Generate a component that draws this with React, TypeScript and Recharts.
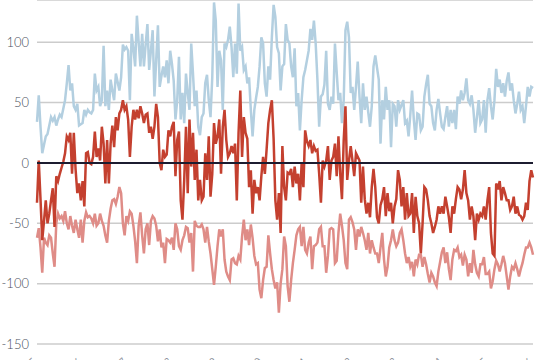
import React from "react";
import { LineChart, Line, XAxis, YAxis, CartesianGrid, ReferenceLine } from "recharts";

// upper (light blue) series
const upper: number[] = [
  34, 56, 30, 8, 15, 22, 24, 31, 38, 35, 38, 31, 36, 40, 38, 45, 52, 66, 81, 60,
  66, 47, 44, 49, 31, 32, 33, 44, 40, 44, 42, 41, 44, 74, 60, 63, 47, 52, 97, 47,
  60, 44, 69, 60, 52, 74, 67, 60, 71, 98, 94, 96, 93, 52, 107, 95, 80, 122, 100, 80,
  107, 80, 98, 115, 77, 93, 110, 55, 85, 114, 63,
  72, 80, 71, 85, 66, 93, 82, 68, 36, 52, 88, 36, 58, 33, 74, 58, 44, 99, 74, 47,
  60, 30, 23, 38, 41, 66, 73, 52, 38, 71, 133, 118, 63, 93, 85, 44, 99, 96, 102, 113,
  96, 71, 99, 74, 132, 93, 96, 77, 80, 66, 71, 44, 22, 44, 54, 63, 80, 104, 99, 66,
  55, 80, 69, 104, 131, 121, 96, 91, 60, 80, 82, 115,
  102, 99, 80, 71, 95, 47, 58, 27, 52, 71, 77, 85, 93, 111, 102, 118, 99, 69, 30, 55,
  57, 65, 93, 49, 44, 55, 49, 99, 75, 52, 58, 33, 52, 110, 117, 104, 58, 63, 44, 63,
  84, 55, 33, 66, 44, 55, 42, 30, 47, 80, 89, 79, 69, 16, 52, 36, 63, 44, 52, 13,
  49, 47, 30, 52, 44, 48, 52, 33, 35,
  22, 40, 60, 36, 19, 41, 40, 27, 30, 55, 65, 73, 49, 47, 33, 27, 44, 53, 41, 30,
  28, 38, 47, 30, 44, 33, 44, 28, 55, 49, 60, 52, 58, 70, 52, 49, 56, 44, 25, 38,
  52, 33, 36, 52, 25, 52, 62, 47, 36, 52, 78, 63, 69, 58, 66, 55, 68, 75, 60, 66,
  52, 41, 49, 59, 44, 47, 33, 47, 63, 55, 63, 62,
];

// middle (dark red) series
const middle: number[] = [
  -33, 2, -30, -64, -48, -31, -50, -42, -31, -21, -53, -11, -15, -9, -4, 1, 8, 22, 19, 25,
  -9, 25, -5, -25, -17, -31, -15, -36, 8, 9, 0, -1, 5, 26, 5, 12, 2, 30, 16, -17,
  19, -17, 16, 31, 13, 38, 27, 41, 44, 52, 44, 47, 36, 5, 30, 44, 36, 44, 37, 47,
  41, 33, 40, 41, 25, 30, 20, 30, 49, 38, 0,
  -6, 11, 5, 7, 27, 22, 30, 34, -11, 19, 26, -31, -47, -14, 30, -25, 36, -3, 25, -14,
  11, -31, -14, -31, -28, 8, -14, 22, -28, -9, 33, 16, 22, 36, -9, 30, 44, 19, 5, 8,
  14, 8, 16, -31, 25, 60, 5, 38, 25, 20, -20, -6, -42, -14, -25, -20, -31, -11, 5, -9,
  11, 33, 44, 52, 20, -31, -47, -25, -58, 14, -20, -31,
  -8, -9, -5, -20, -3, -17, -9, -31, 0, -20, 27, 18, 14, 19, 8, 14, 10, 11, -9, -33,
  2, -3, 2, 14, -14, 2, 5, 16, -11, 22, -9, -30, 19, 47, -14, 2, 14, 2, -11, 8,
  5, 2, -33, -3, -30, -42, -33, -45, -20, -5, -20, -45, -50, -35, -30, -20, -44, -25, -40, -33,
  -50, -36, -30, -6, -14, -36, -20, -47, -25,
  -44, -42, -25, -58, -28, -44, -50, -75, -50, -20, -22, -31, -44, -50, -58, -53, -47, -36, -42, -36,
  -42, -28, -36, -45, -58, -36, -42, -30, -20, -22, -30, -22, -6, -25, -31, -47, -36, -44, -64, -42,
  -47, -42, -44, -36, -47, -31, -20, -58, -75, -77, -17, -22, -15, -31, -20, -25, -31, -31, -39, -36,
  -28, -42, -36, -43, -44, -47, -44, -33, -39, -15, -6, -12,
];

// lower (salmon) series
const lower: number[] = [
  -62, -54, -70, -91, -62, -66, -68, -60, -62, -75, -86, -50, -42, -46, -44, -48, -40, -50, -55, -44,
  -52, -58, -47, -55, -62, -47, -66, -48, -41, -45, -44, -46, -50, -42, -52, -50, -42, -48, -52, -60,
  -66, -48, -38, -31, -30, -34, -28, -20, -25, -50, -60, -44, -48, -40, -42, -52, -65, -83, -52, -41,
  -60, -75, -55, -50, -68, -48, -44, -46, -52, -65, -55,
  -70, -66, -83, -63, -64, -66, -62, -72, -50, -55, -69, -72, -64, -60, -53, -54, -66, -58, -90, -48,
  -52, -53, -53, -51, -55, -66, -53, -65, -75, -88, -101, -86, -69, -55, -61, -55, -80, -90, -94, -97,
  -80, -79, -83, -84, -77, -80, -61, -47, -64, -55, -68, -51, -62, -77, -84, -83, -105, -112, -97, -87,
  -86, -60, -75, -88, -97, -104, -99, -124, -100, -88, -61, -69,
  -102, -115, -97, -83, -72, -60, -55, -53, -69, -53, -72, -75, -66, -61, -88, -69, -68, -66, -55, -53,
  -69, -69, -91, -77, -55, -54, -55, -83, -81, -58, -42, -52, -64, -83, -88, -47, -45, -49, -55, -72,
  -55, -61, -53, -58, -64, -72, -58, -75, -64, -70, -75, -75, -83, -70, -58, -80, -94, -86, -70, -64,
  -55, -64, -69, -66, -58, -55, -64, -75, -83,
  -78, -86, -82, -94, -80, -84, -76, -76, -86, -78, -84, -92, -99, -91, -94, -99, -102, -90, -82, -74,
  -70, -83, -74, -88, -97, -80, -72, -73, -70, -78, -76, -85, -76, -80, -94, -83, -91, -72, -84, -91,
  -94, -84, -84, -78, -92, -92, -90, -104, -98, -88, -81, -84, -90, -84, -77, -83, -94, -105, -94, -86,
  -88, -83, -88, -94, -88, -83, -76, -70, -70, -66, -70, -76,
];

const yTicks: number[] = [-150, -100, -50, 0, 50, 100];
const xTickLabels: string[] = [
  "2005", "2006", "2007", "2008", "2009", "2010",
  "2011", "2012", "2013", "2014", "2015", "2016",
];

const N = Math.min(upper.length, middle.length, lower.length);
const data = Array.from({ length: N }, (_, i) => ({
  i,
  upper: upper[i],
  middle: middle[i],
  lower: lower[i],
}));
const xTicks = xTickLabels.map((_, k) => (k * (N - 1)) / (xTickLabels.length - 1));

const XTick = (props: any) => {
  const { x, y, index } = props;
  const ay = y + 10;
  return (
    <text
      x={x}
      y={ay}
      transform={`rotate(-45, ${x}, ${ay})`}
      textAnchor="end"
      fontSize={10}
      fontFamily="Lato, sans-serif"
      fill="#8a8f99"
    >
      {xTickLabels[index]}
    </text>
  );
};

export default function App() {
  return (
    <div style={{ position: "absolute", left: 0, top: 0, width: 540, height: 360, background: "#fff" }}>
      <LineChart
        width={540}
        height={360}
        data={data}
        margin={{ top: 0, right: 7, left: 0, bottom: 0 }}
      >
        <CartesianGrid horizontal vertical={false} stroke="#cccccc" strokeWidth={1.5} />
        <XAxis
          dataKey="i"
          type="number"
          domain={[0, N - 1]}
          ticks={xTicks}
          interval={0}
          height={16}
          axisLine={false}
          tickLine={false}
          tick={<XTick />}
        />
        <YAxis
          domain={[-150, 135]}
          ticks={yTicks}
          width={37}
          axisLine={false}
          tickLine={false}
          allowDataOverflow
          tick={{ fontSize: 13, fontFamily: "Lato, sans-serif", fontWeight: 300, fill: "#4a5060" }}
        />
        <Line type="linear" dataKey="upper" stroke="#b3cfe0" strokeWidth={2.5} dot={false} isAnimationActive={false} />
        <Line type="linear" dataKey="lower" stroke="#df8c87" strokeWidth={2.5} dot={false} isAnimationActive={false} />
        <Line type="linear" dataKey="middle" stroke="#c4402f" strokeWidth={2.5} dot={false} isAnimationActive={false} />
        <ReferenceLine y={0} stroke="#1c1c30" strokeWidth={2} />
      </LineChart>
    </div>
  );
}
